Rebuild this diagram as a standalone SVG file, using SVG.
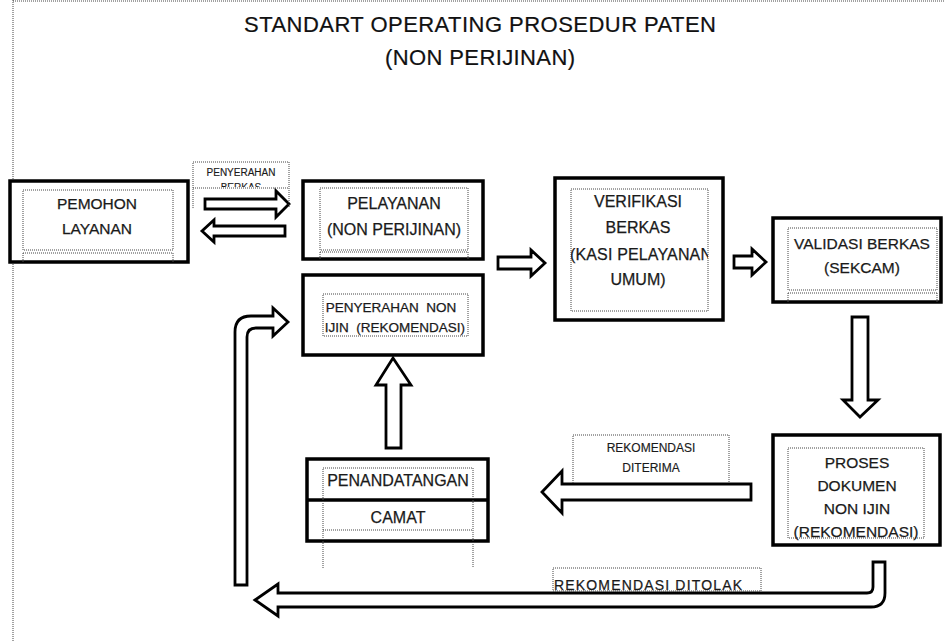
<svg xmlns="http://www.w3.org/2000/svg" width="944" height="641" viewBox="0 0 944 641">
<defs>
<style>
.box{fill:#fff;stroke:#000;stroke-width:3.5}
.dot{fill:none;stroke:#444;stroke-width:1;stroke-dasharray:1 1}
.arr{fill:#fff;stroke:#000;stroke-width:2.8;stroke-linejoin:miter}
.t{font-family:"Liberation Sans",Arial,sans-serif;font-size:15.5px;fill:#1a1a1a;stroke:#1a1a1a;stroke-width:0.25;text-anchor:middle;white-space:pre}
.s{font-size:12px;stroke-width:0.15}
.title{font-family:"Liberation Sans",Arial,sans-serif;font-size:22px;fill:#111;stroke:#111;stroke-width:0.2;text-anchor:middle}
</style>
<clipPath id="clipB"><rect x="190" y="160" width="102" height="27"/></clipPath>
<clipPath id="clipV"><rect x="571" y="189" width="137" height="122"/></clipPath>
<clipPath id="clipP"><rect x="323" y="468" width="150" height="62"/></clipPath>
</defs>
<rect width="944" height="641" fill="#fff"/>
<g id="page">
<line class="dot" x1="13" y1="1" x2="944" y2="1"/>
<line class="dot" x1="13" y1="0" x2="13" y2="641"/>
</g>
<g id="title">
<text class="title" x="480" y="32" textLength="472">STANDART OPERATING PROSEDUR PATEN</text>
<text class="title" x="480" y="65" textLength="190">(NON PERIJINAN)</text>
</g>
<g id="connectors">
<path class="arr" d="M205,199 H276 V191 L289,204 L276,217 V209 H205 Z"/>
<path class="arr" d="M285,226 H214 V220 L202,231 L214,242 V236 H285 Z"/>
<path class="arr" d="M498,257 H531 V250 L545,263 L531,276 V269 H498 Z"/>
<path class="arr" d="M734,256 H752 V249 L766,262 L752,275 V268 H734 Z"/>
<path class="arr" d="M852,317 H868 V400 H878 L860,417 L843,400 H852 Z"/>
<path class="arr" d="M386,448 V385 H376 L393,358 L411,385 H401 V448 Z"/>
<path class="arr" d="M751,484 H562 V471 L542,492 L562,513 V500 H751 Z"/>
<path class="arr" d="M235,585 V332 Q235,316 251,316 H273 V308 L288,322 L273,336 V328 H256 Q247,328 247,337 V585 Z"/>
<path class="arr" d="M885,562 V593 Q885,607 871,607 H278 V616 L255,600 L278,584 V593 H867 Q873,593 873,587 V562 Z"/>
</g>
<g id="label-penyerahan-berkas">
<path class="dot" d="M193,208 V162 H289 V208 M193,188 H289"/>
<g clip-path="url(#clipB)">
<text class="t s" x="241" y="176" style="font-size:10px">PENYERAHAN</text>
<text class="t s" x="241" y="191" style="font-size:10px">BERKAS</text>
</g>
</g>
<g id="label-diterima">
<path class="dot" d="M573,483 V435 H729 V483"/>
<text class="t s" x="651" y="452">REKOMENDASI</text>
<text class="t s" x="651" y="472">DITERIMA</text>
</g>
<g id="label-ditolak">
<rect class="dot" x="553" y="568" width="208" height="23"/>
<text class="t" x="554" y="590" textLength="188" style="font-size:14px;text-anchor:start">REKOMENDASI DITOLAK</text>
</g>
<g id="pemohon">
<rect class="box" x="10" y="181" width="178" height="81"/>
<rect class="dot" x="23" y="190" width="150" height="60"/>
<path class="dot" d="M23,253 H173 M23,253 V262 M173,253 V262"/>
<text class="t" x="97" y="209">PEMOHON</text>
<text class="t" x="97" y="234">LAYANAN</text>
</g>
<g id="pelayanan">
<rect class="box" x="303" y="181" width="180" height="78"/>
<rect class="dot" x="320" y="188" width="148" height="62"/>
<path class="dot" d="M320,252 H468 M320,252 V259 M468,252 V259"/>
<text class="t" x="394" y="209" style="font-size:16px">PELAYANAN</text>
<text class="t" x="394" y="235" style="font-size:16px">(NON PERIJINAN)</text>
</g>
<g id="penyerahan-non-ijin">
<rect class="box" x="303" y="275" width="180" height="80"/>
<rect class="dot" x="323" y="294" width="145" height="42"/>
<text class="t" x="391" y="312" style="font-size:13.5px">PENYERAHAN  NON</text>
<text class="t" x="395" y="332" style="font-size:13.5px">IJIN  (REKOMENDASI)</text>
</g>
<g id="verifikasi">
<rect class="box" x="555" y="178" width="168" height="142"/>
<rect class="dot" x="571" y="189" width="137" height="122"/>
<g clip-path="url(#clipV)">
<text class="t" x="638" y="207" style="font-size:16px">VERIFIKASI</text>
<text class="t" x="638" y="233" style="font-size:16px">BERKAS</text>
<text class="t" x="641" y="260" style="font-size:16px" textLength="142">(KASI PELAYANAN</text>
<text class="t" x="638" y="285" style="font-size:16px">UMUM)</text>
</g>
</g>
<g id="validasi">
<rect class="box" x="773" y="218" width="168" height="84"/>
<rect class="dot" x="788" y="228" width="149" height="62"/>
<path class="dot" d="M788,293 H937 M788,293 V302 M937,293 V302"/>
<text class="t" x="862" y="249">VALIDASI BERKAS</text>
<text class="t" x="862" y="273">(SEKCAM)</text>
</g>
<g id="proses">
<rect class="box" x="773" y="435" width="167" height="110"/>
<rect class="dot" x="788" y="448" width="136" height="90"/>
<text class="t" x="857" y="468">PROSES</text>
<text class="t" x="857" y="491">DOKUMEN</text>
<text class="t" x="857" y="514">NON IJIN</text>
<text class="t" x="856" y="537">(REKOMENDASI)</text>
</g>
<g id="penandatangan">
<rect class="box" x="307" y="459" width="181" height="82"/>
<line x1="307" y1="500" x2="488" y2="500" stroke="#000" stroke-width="3.5"/>
<path class="dot" d="M323,568 V468 H473 V568 M323,530 H473"/>
<g clip-path="url(#clipP)">
<text class="t" x="398" y="486" style="font-size:16px">PENANDATANGAN</text>
</g>
<text class="t" x="398" y="523" style="font-size:16px">CAMAT</text>
</g>
</svg>
